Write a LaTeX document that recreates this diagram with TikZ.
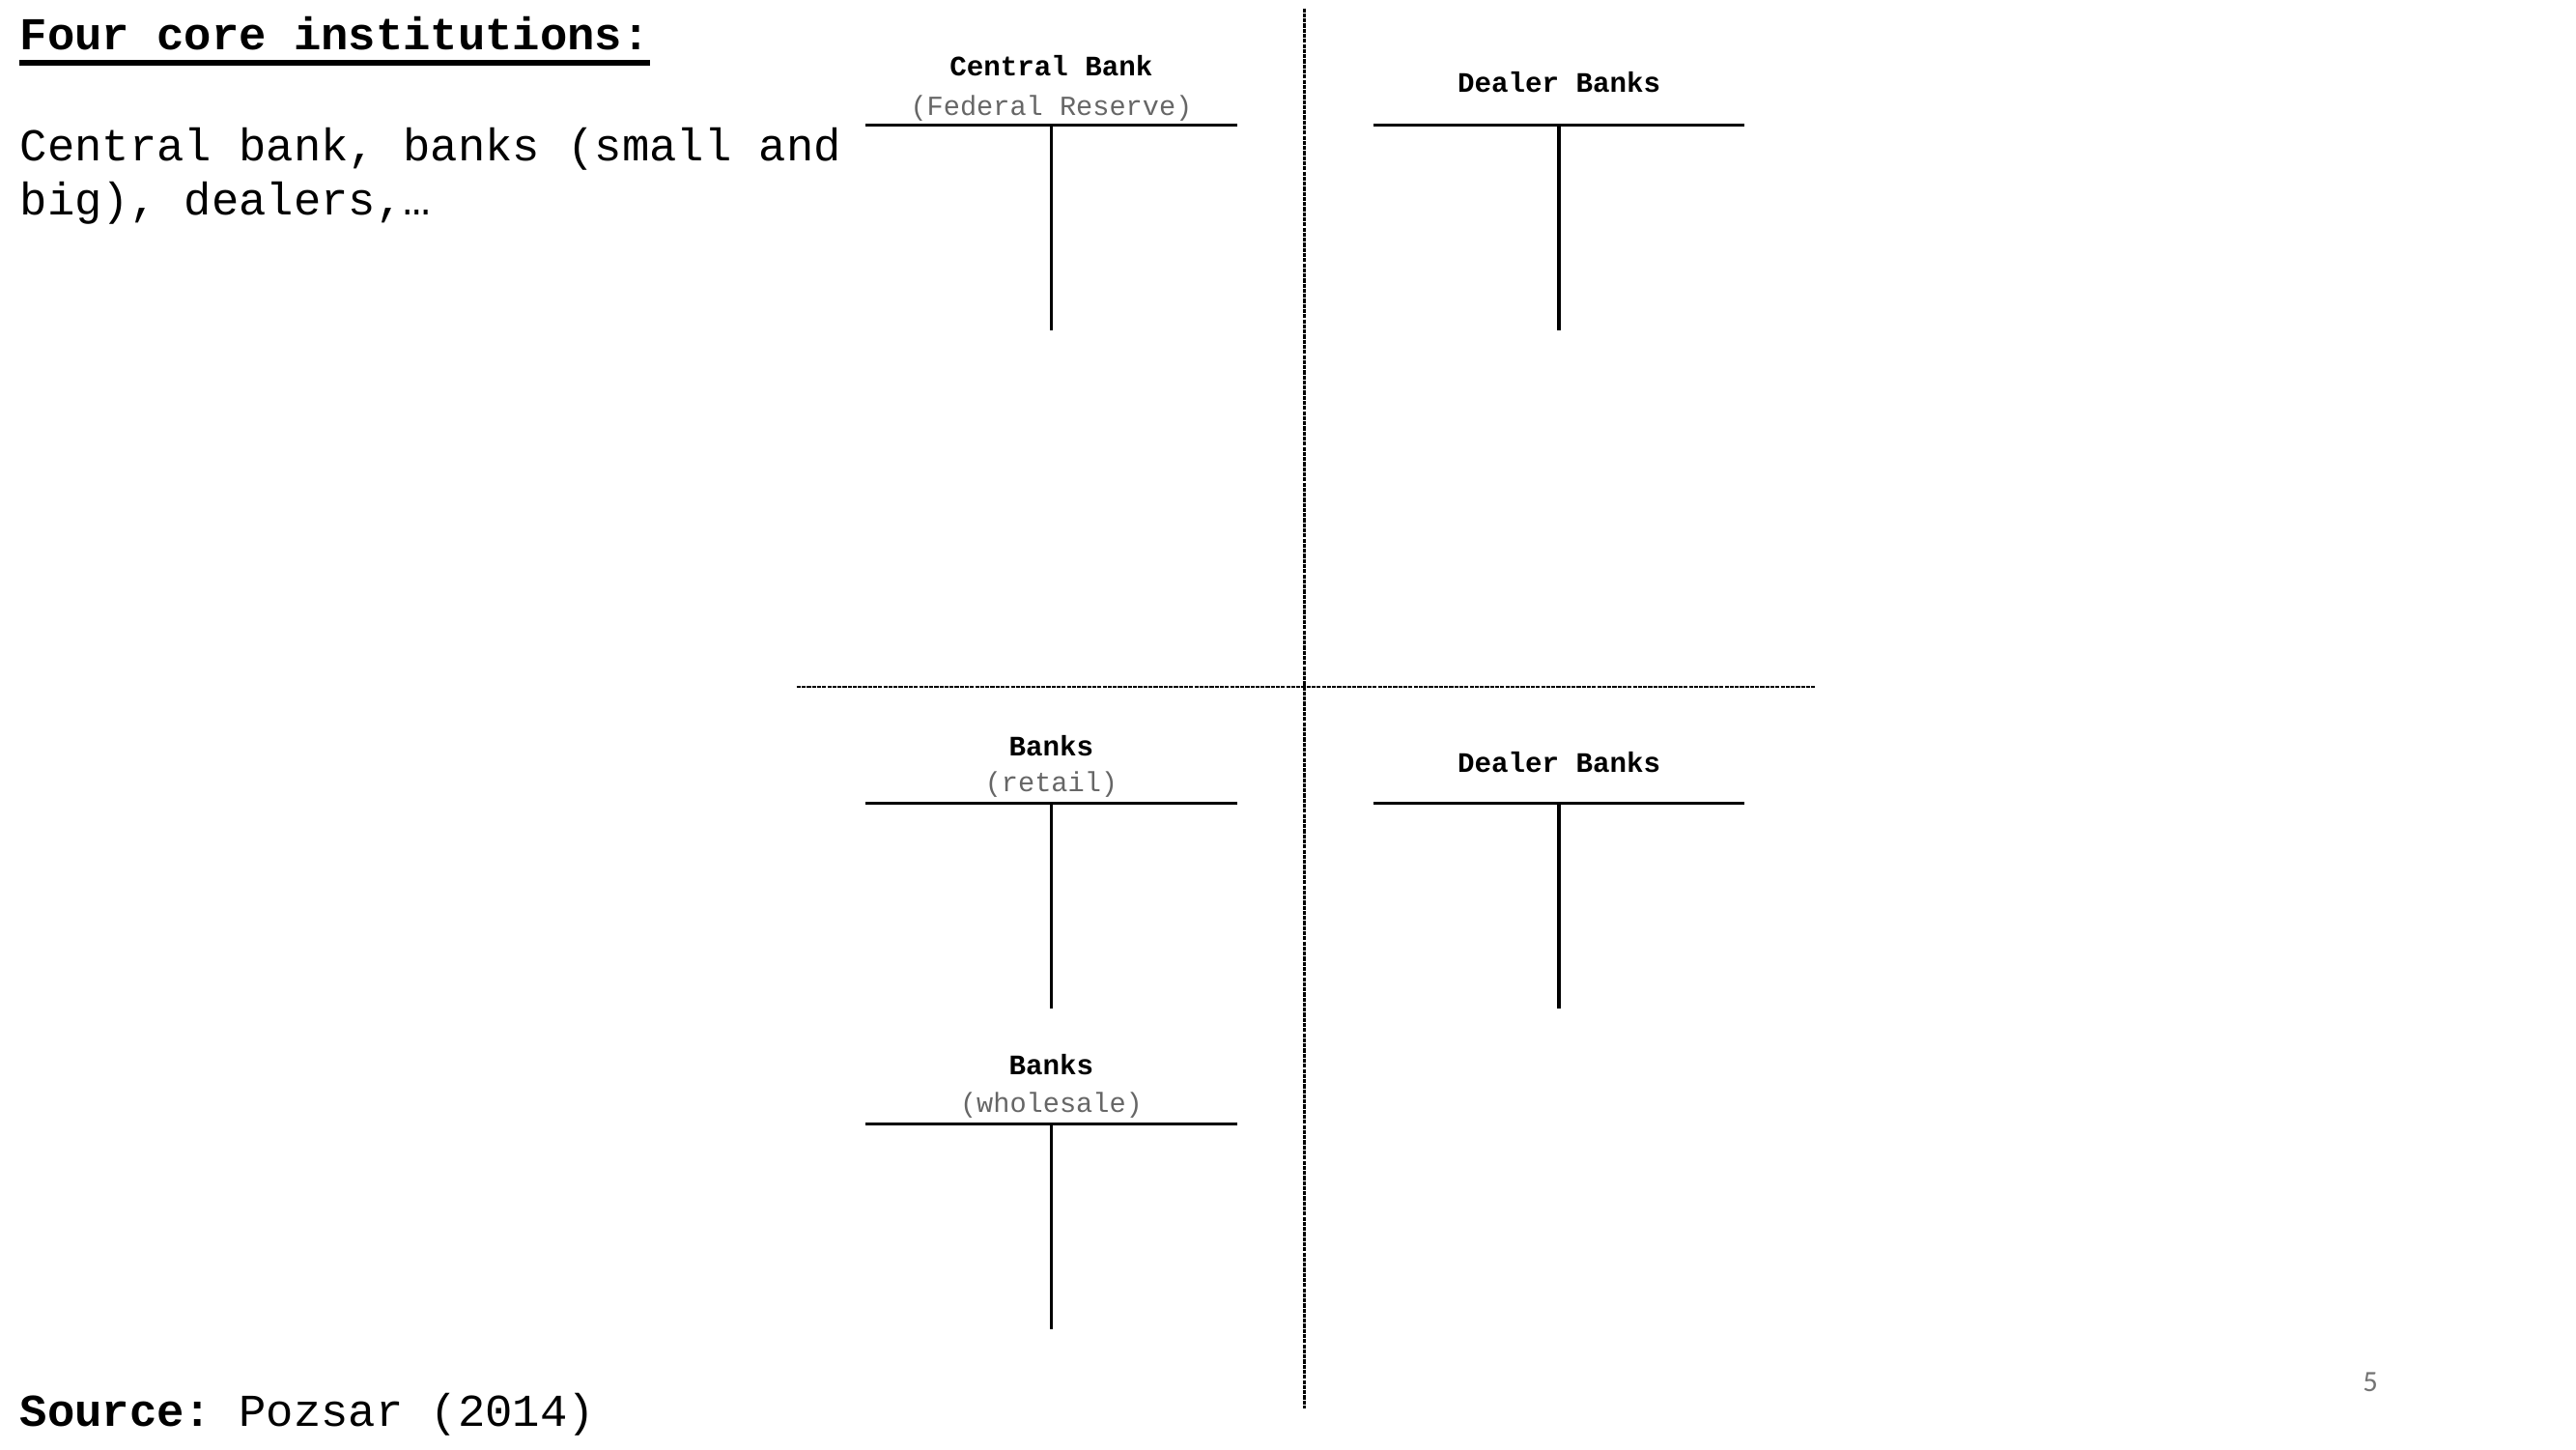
\documentclass[tikz,border=0pt]{standalone}
\usepackage{fontspec}
\setmainfont{Liberation Mono}
\newfontfamily\numfont{Carlito}
\usetikzlibrary{calc}
\frenchspacing
\tikzset{
	tline/.style={line width=1.2pt},
	sepline/.style={line width=0.75pt,dash pattern=on 1.5pt off 0.4pt},
	accname/.style={anchor=base,inner sep=0pt,font=\fontsize{10.5}{12}\selectfont\bfseries},
	accsub/.style={anchor=base,inner sep=0pt,text=black!60,font=\fontsize{10.3}{12}\selectfont},
	bigtext/.style={anchor=base west,inner sep=0pt,font=\fontsize{17}{20.2}\selectfont}
}
\begin{document}
\begin{tikzpicture}[x=1pt,y=1pt]
	\useasboundingbox (0,0) rectangle (960,-540);
	% title and notes
	\node[bigtext,font=\fontsize{17}{20.2}\selectfont\bfseries] (title) at (7.3,-18.4) {Four core institutions:};
	\draw[line width=2pt] ($(title.base west)+(0,-4.9)$) coordinate (ul1) -- ($(title.base east)+(0,-4.9)$) coordinate (ul2);
	\node[bigtext,align=left] (inst) at (7.3,-80.2) {Central bank, banks (small and\\big), dealers,\dots};
	\node[bigtext] (src) at (7.3,-531.4) {\textbf{Source:} Pozsar (2014)};
	\node[anchor=base,inner sep=0pt,text=black!55,font=\numfont\fontsize{11}{13}\selectfont] (pg) at (883.4,-518.5) {5};
	% quadrant lines
	\coordinate (v1) at (486.1,-3.1);
	\coordinate (v2) at (486.1,-524.7);
	\coordinate (h1) at (296.9,-255.9);
	\coordinate (h2) at (676.5,-255.9);
	\draw[sepline] (v1) -- (v2) (h1) -- (h2);
	% T-accounts
	\foreach \x/\y/\k in {391.8/-46.5/1,581/-46.5/2,391.8/-299.4/3,581/-299.4/4,391.8/-418.7/5} {
		\coordinate (t\k) at (\x,\y);
		\draw[tline] ($(t\k)+(-69.2,0)$) -- ($(t\k)+(69.2,0)$) (t\k) -- ++(0,-76.5);
	}
	\node[accname] (n1) at ($(t1)+(0,18.3)$) {Central Bank};
	\node[accsub] (s1) at ($(t1)+(0,3.6)$) {(Federal Reserve)};
	\node[accname] (n2) at ($(t2)+(0,12.2)$) {Dealer Banks};
	\node[accname] (n3) at ($(t3)+(0,17.8)$) {Banks};
	\node[accsub] (s3) at ($(t3)+(0,4.3)$) {(retail)};
	\node[accname] (n4) at ($(t4)+(0,11.7)$) {Dealer Banks};
	\node[accname] (n5) at ($(t5)+(0,18.3)$) {Banks};
	\node[accsub] (s5) at ($(t5)+(0,4.2)$) {(wholesale)};
\end{tikzpicture}
\end{document}
